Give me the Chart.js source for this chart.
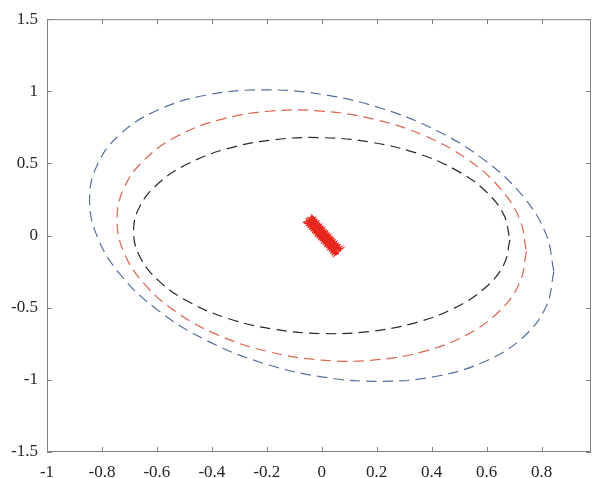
<!DOCTYPE html>
<html>
<head>
<meta charset="utf-8">
<script src="https://cdn.jsdelivr.net/npm/chart.js@4"></script>
<style>
  html, body { margin: 0; padding: 0; background: #fff; }
  #wrap { width: 593px; height: 478px; }
</style>
</head>
<body>
<div id="wrap"><canvas id="plot" width="593" height="478"></canvas></div>
<script>
// tick values / labels (MATLAB style axes)
const xTickValues = [-1, -0.8, -0.6, -0.4, -0.2, 0, 0.2, 0.4, 0.6, 0.8];
const xTickLabels = ['-1', '-0.8', '-0.6', '-0.4', '-0.2', '0', '0.2', '0.4', '0.6', '0.8'];
const yTickValues = [-1.5, -1, -0.5, 0, 0.5, 1, 1.5];
const yTickLabels = ['-1.5', '-1', '-0.5', '0', '0.5', '1', '1.5'];

// outer (blue) dashed contour
const blueX = [0.845, 0.816, 0.732, 0.598, 0.423, 0.219, 0, -0.219, -0.423, -0.598, -0.732, -0.816,
               -0.845, -0.816, -0.732, -0.598, -0.423, -0.219, 0, 0.219, 0.423, 0.598, 0.732, 0.816];
const blueY = [-0.250, -0.495, -0.706, -0.869, -0.973, -1.010, -0.979, -0.881, -0.723, -0.515, -0.273, -0.012,
               0.250, 0.495, 0.706, 0.869, 0.973, 1.010, 0.979, 0.881, 0.723, 0.515, 0.273, 0.012];

// middle (red) dashed contour
const redX = [0.745, 0.720, 0.645, 0.527, 0.373, 0.193, 0, -0.193, -0.373, -0.527, -0.645, -0.720,
              -0.745, -0.720, -0.645, -0.527, -0.373, -0.193, 0, 0.193, 0.373, 0.527, 0.645, 0.720];
const redY = [-0.110, -0.329, -0.526, -0.688, -0.802, -0.862, -0.863, -0.805, -0.693, -0.533, -0.337, -0.117,
              0.110, 0.329, 0.526, 0.688, 0.802, 0.862, 0.863, 0.805, 0.693, 0.533, 0.337, 0.117];

// inner (black) dashed contour
const blackX = [0.685, 0.662, 0.593, 0.484, 0.343, 0.177, 0, -0.177, -0.343, -0.484, -0.593, -0.662,
                -0.685, -0.662, -0.593, -0.484, -0.343, -0.177, 0, 0.177, 0.343, 0.484, 0.593, 0.662];
const blackY = [-0.030, -0.204, -0.365, -0.501, -0.603, -0.664, -0.679, -0.648, -0.573, -0.459, -0.314, -0.147,
                0.030, 0.204, 0.365, 0.501, 0.603, 0.664, 0.679, 0.648, 0.573, 0.459, 0.314, 0.147];

// red trajectory blob in the middle
const trajX = [-0.045, 0.040, -0.030, 0.055, -0.050, 0.030, -0.035, 0.060, -0.055, 0.045, -0.035, 0.065,
               -0.040, 0.035, -0.060, 0.050, -0.025, 0.058, -0.048, 0.048, -0.038, 0.068, -0.015, 0.010,
               -0.005, 0.020, -0.052, 0.062, -0.030, 0.052, -0.058, 0.070, -0.044, 0.056,
               -0.036, -0.055, -0.012, -0.033, 0.010, -0.011, 0.032, 0.011, 0.054, 0.033, 0.076,
               0.046, 0.065, 0.022, 0.043, 0.000, 0.021, -0.022, -0.001, -0.044, -0.023, -0.066,
               -0.060, -0.019, -0.038, 0.004, -0.016, 0.026, 0.007, 0.048, 0.029, 0.070,
               0.040, 0.059, 0.018, 0.037, -0.005, 0.015, -0.027, -0.008, -0.049, -0.030];
const trajY = [0.125, -0.090, 0.100, -0.110, 0.095, -0.090, 0.135, -0.085, 0.110, -0.125, 0.080, -0.100,
               0.135, -0.105, 0.100, -0.095, 0.115, -0.120, 0.085, -0.130, 0.120, -0.090, 0.060, -0.020,
               0.040, -0.050, 0.130, -0.130, 0.090, -0.070, 0.120, -0.110, 0.105, -0.135,
               0.142, 0.069, 0.101, 0.022, 0.054, -0.026, 0.007, -0.073, -0.040, -0.120, -0.087,
               -0.138, -0.064, -0.096, -0.017, -0.049, 0.031, -0.002, 0.078, 0.045, 0.125, 0.092,
               0.082, 0.111, 0.035, 0.064, -0.012, 0.017, -0.059, -0.030, -0.106, -0.077,
               -0.129, -0.054, -0.082, -0.007, -0.035, 0.040, 0.012, 0.087, 0.059, 0.134];

function pts(xs, ys) {
    return xs.map(function(v, i) { return { x: v, y: ys[i] }; });
}
function loop(xs, ys) {
    const p = pts(xs, ys);
    return p.concat([p[0]]);
}

// box + inward ticks on all four sides
const matlabFrame = {
    id: 'matlabFrame',
    afterDraw(chart) {
        const ctx = chart.ctx;
        const a = chart.chartArea;
        const xs = chart.scales.x, ys = chart.scales.y;
        ctx.save();
        ctx.strokeStyle = '#808080';
        ctx.lineWidth = 1;
        ctx.beginPath();
        ctx.rect(a.left + 0.5, a.top + 0.5, a.right - a.left - 1, a.bottom - a.top - 1);
        xs.ticks.forEach(function(t) {
            const p = Math.round(xs.getPixelForValue(t.value)) + 0.5;
            ctx.moveTo(p, a.bottom); ctx.lineTo(p, a.bottom - 5);
            ctx.moveTo(p, a.top); ctx.lineTo(p, a.top + 5);
        });
        ys.ticks.forEach(function(t) {
            const p = Math.round(ys.getPixelForValue(t.value)) + 0.5;
            ctx.moveTo(a.left, p); ctx.lineTo(a.left + 5, p);
            ctx.moveTo(a.right, p); ctx.lineTo(a.right - 5, p);
        });
        ctx.stroke();
        ctx.restore();
    }
};

const dashStyle = { showLine: true, pointRadius: 0, borderWidth: 1.2, borderDash: [10.5, 6], tension: 0.4, fill: false };

new Chart(document.getElementById('plot').getContext('2d'), {
    type: 'scatter',
    data: {
        datasets: [
            Object.assign({ data: loop(blueX, blueY), borderColor: '#56719e' }, dashStyle),
            Object.assign({ data: loop(redX, redY), borderColor: '#dc6450' }, dashStyle),
            Object.assign({ data: loop(blackX, blackY), borderColor: '#2a2a2a' }, dashStyle),
            { data: pts(trajX, trajY), showLine: true, pointRadius: 0, borderWidth: 1.3,
              borderColor: '#e8261c', tension: 0, fill: false }
        ]
    },
    options: {
        responsive: false,
        animation: false,
        layout: { padding: { top: 15, right: 2, left: 0, bottom: 0 } },
        plugins: { legend: { display: false }, tooltip: { enabled: false } },
        scales: {
            x: {
                type: 'linear',
                min: -1,
                max: 0.98,
                grid: { display: false, drawTicks: false },
                border: { display: false },
                afterBuildTicks: function(scale) {
                    scale.ticks = xTickValues.map(function(v) { return { value: v }; });
                },
                afterFit: function(scale) { scale.height = 26; },
                ticks: {
                    padding: 10,
                    maxRotation: 0,
                    autoSkip: false,
                    color: '#262626',
                    font: { family: 'Liberation Serif', size: 17 },
                    callback: function(value) {
                        const i = xTickValues.indexOf(value);
                        return i >= 0 ? xTickLabels[i] : '';
                    }
                }
            },
            y: {
                type: 'linear',
                min: -1.5,
                max: 1.5,
                grid: { display: false, drawTicks: false },
                border: { display: false },
                afterBuildTicks: function(scale) {
                    scale.ticks = yTickValues.map(function(v) { return { value: v }; });
                },
                afterFit: function(scale) { scale.width = 47; },
                ticks: {
                    padding: 9,
                    autoSkip: false,
                    color: '#262626',
                    font: { family: 'Liberation Serif', size: 17 },
                    callback: function(value) {
                        const i = yTickValues.indexOf(value);
                        return i >= 0 ? yTickLabels[i] : '';
                    }
                }
            }
        }
    },
    plugins: [matlabFrame]
});
</script>
</body>
</html>
